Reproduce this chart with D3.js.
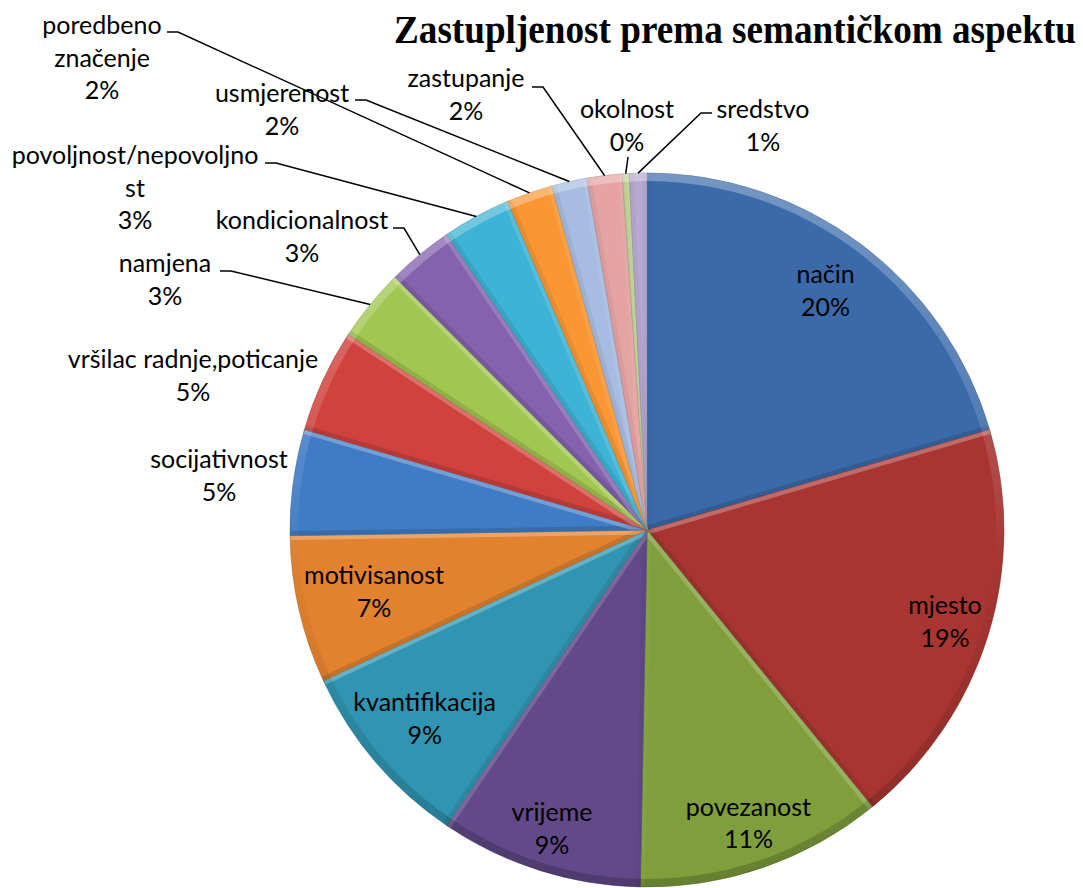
<!DOCTYPE html>
<html>
<head>
<meta charset="utf-8">
<script src="https://cdn.jsdelivr.net/npm/d3@7"></script>
<style>
  body { margin: 0; background: #fff; }
  svg { display: block; }
  .lbl { font-family: Lato, "Noto Sans", sans-serif; font-size: 25px; fill: #000; }
</style>
</head>
<body>
<div id="chart"></div>
<script>
(function () {

	'use strict';

	// data (percent of examples, clockwise from 12 o'clock)
	var categories = ['način', 'mjesto', 'povezanost', 'vrijeme', 'kvantifikacija', 'motivisanost',
		'socijativnost', 'vršilac radnje,poticanje', 'namjena', 'kondicionalnost',
		'povoljnost/nepovoljnost', 'poredbeno značenje', 'usmjerenost', 'zastupanje', 'okolnost', 'sredstvo'];
	var values = [20.5, 18.7, 11.2, 9.2, 8.6, 6.7, 4.8, 4.7, 3.3, 3.0, 3.1, 2.1, 1.6, 1.6, 0.3, 0.8];
	// how the category names wrap in the labels
	var labelLines = [['način'], ['mjesto'], ['povezanost'], ['vrijeme'], ['kvantifikacija'], ['motivisanost'],
		['socijativnost'], ['vršilac radnje,poticanje'], ['namjena'], ['kondicionalnost'],
		['povoljnost/nepovoljno', 'st'], ['poredbeno', 'značenje'], ['usmjerenost'], ['zastupanje'], ['okolnost'], ['sredstvo']];
	var colors = ['#3A6AAA', '#A83532', '#7F9F3D', '#62498A', '#3095B2', '#E2822E',
		'#407CC6', '#D0423E', '#A2C751', '#8462AE', '#3DB4D5', '#FA9734',
		'#A6BDE1', '#E5A3A3', '#C2D69A', '#B7A9D1'];
	var title = 'Zastupljenost prema semantičkom aspektu';

	var width = 1083, height = 888;
	var cx = 647, cy = 530, r = 357;
	var lineH = 32.5;

	// outside label placement: block centre x, first baseline y, leader anchor and direction
	var outside = {
		6: { x: 219, y: 468 },
		7: { x: 193, y: 368 },
		8: { x: 165, y: 272, ax: 220, ay: 271, dir: 1 },
		9: { x: 302, y: 229, ax: 393, ay: 228, dir: 1 },
		10: { x: 135, y: 164, ax: 265, ay: 163, dir: 1 },
		11: { x: 102, y: 34, ax: 167, ay: 32, dir: 1 },
		12: { x: 282, y: 102, ax: 355, ay: 100, dir: 1 },
		13: { x: 466, y: 87, ax: 532, ay: 87, dir: 1 },
		14: { x: 627, y: 118, ax: 628, ay: 157, dir: 0 },
		15: { x: 763, y: 118, ax: 712, ay: 113, dir: -1 }
	};
	// radius of inside labels (block centre)
	var insideR = [298, 312, 311, 314, 292, 280];

	var svg = d3.select('#chart')
		.append('svg')
		.attr('width', width)
		.attr('height', height);

	var total = d3.sum(values);
	var data = categories.map(function (c, i) {
		return { name: c, value: values[i], lines: labelLines[i], color: colors[i], i: i };
	});

	var pie = d3.pie().sort(null).value(function (d) { return d.value; });
	var arcs = pie(data);
	var arc = d3.arc().innerRadius(0).outerRadius(r);

	var defs = svg.append('defs');

	var rimGrad = defs.append('linearGradient')
		.attr('id', 'rimGrad')
		.attr('x1', 0).attr('y1', 0).attr('x2', 0).attr('y2', 1);
	rimGrad.append('stop').attr('offset', '0%').attr('stop-color', '#fff').attr('stop-opacity', 0.3);
	rimGrad.append('stop').attr('offset', '45%').attr('stop-color', '#fff').attr('stop-opacity', 0.08);
	rimGrad.append('stop').attr('offset', '60%').attr('stop-color', '#000').attr('stop-opacity', 0.03);
	rimGrad.append('stop').attr('offset', '100%').attr('stop-color', '#000').attr('stop-opacity', 0.2);

	arcs.forEach(function (a, i) {
		defs.append('clipPath')
			.attr('id', 'clip' + i)
			.append('path')
			.attr('d', arc(a));
	});

	var g = svg.append('g').attr('transform', 'translate(' + cx + ',' + cy + ')');

	var slices = g.selectAll('g.slice')
		.data(arcs)
		.enter()
		.append('g')
		.attr('class', 'slice');

	slices.append('path')
		.attr('d', arc)
		.attr('fill', function (d) { return d.data.color; });

	// bevel on the two straight edges, lit from above
	slices.each(function (d, i) {
		var s = d3.select(this).append('g').attr('clip-path', 'url(#clip' + i + ')');
		[[d.startAngle, -1], [d.endAngle, 1]].forEach(function (e) {
			var th = e[0];
			var ny = e[1] * Math.sin(th);
			var x2 = r * Math.sin(th), y2 = -r * Math.cos(th);
			s.append('line')
				.attr('x1', 0).attr('y1', 0)
				.attr('x2', x2).attr('y2', y2)
				.attr('stroke', ny < 0 ? '#fff' : '#000')
				.attr('stroke-opacity', ny < 0 ? 0.25 * -ny + 0.03 : 0.1 * ny + 0.03)
				.attr('stroke-width', 9);
		});
	});

	// rim bevel
	g.append('path')
		.attr('d', d3.arc().innerRadius(r - 8).outerRadius(r).startAngle(0).endAngle(2 * Math.PI)())
		.attr('fill', 'url(#rimGrad)');

	slices.append('path')
		.attr('d', arc)
		.attr('fill', 'none')
		.attr('stroke', function (d) { return d3.color(d.data.color).darker(0.8); })
		.attr('stroke-opacity', 0.5)
		.attr('stroke-width', 1);

	// labels
	var lbl = svg.append('g');

	arcs.forEach(function (a, i) {
		var d = a.data;
		var pct = Math.round(d.value / total * 100) + '%';
		var lines = d.lines.concat([pct]);
		var mid = (a.startAngle + a.endAngle) / 2;
		var x, y0;
		var o = outside[i];
		if (o) {
			x = o.x;
			y0 = o.y;
			if (o.ax !== undefined) {
				var rx = cx + r * Math.sin(mid), ry = cy - r * Math.cos(mid);
				var pts = o.dir === 0 ? [[o.ax, o.ay], [rx, ry]] :
					[[o.ax, o.ay], [o.ax + o.dir * 11, o.ay], [rx, ry]];
				lbl.append('path')
					.attr('d', d3.line()(pts))
					.attr('fill', 'none')
					.attr('stroke', '#000')
					.attr('stroke-width', 1.5);
			}
		} else {
			var rr = insideR[i];
			x = cx + rr * Math.sin(mid);
			var yc = cy - rr * Math.cos(mid);
			y0 = yc - (lines.length - 1) * lineH / 2 + 8;
		}
		var t = lbl.append('text')
			.attr('class', 'lbl')
			.attr('text-anchor', 'middle');
		lines.forEach(function (s, k) {
			t.append('tspan')
				.attr('x', x)
				.attr('y', y0 + k * lineH)
				.text(s);
		});
	});

	// title: tall, slightly condensed serif
	svg.append('g')
		.attr('transform', 'translate(394,43) scale(1,1.12)')
		.append('text')
		.attr('x', 0)
		.attr('y', 0)
		.attr('textLength', 682)
		.attr('lengthAdjust', 'spacingAndGlyphs')
		.attr('font-family', '"Liberation Serif", "Times New Roman", serif')
		.attr('font-weight', 'bold')
		.attr('font-size', 36)
		.text(title);

})();
</script>
</body>
</html>
